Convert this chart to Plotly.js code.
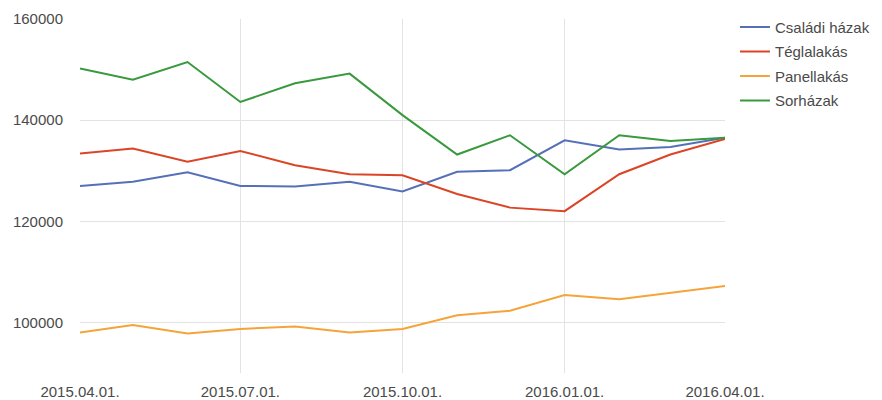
<!DOCTYPE html>
<html>
<head>
<meta charset="utf-8">
<script src="https://cdn.plot.ly/plotly-3.0.1.min.js"></script>
<style>html,body{margin:0;padding:0;background:#fff;}#chart{width:882px;height:400px;}</style>
</head>
<body>
<div id="chart"></div>
<script>
const dates = ["2015-04-01","2015-05-01","2015-06-01","2015-07-01","2015-08-01","2015-09-01","2015-10-01","2015-11-01","2015-12-01","2016-01-01","2016-02-01","2016-03-01","2016-04-01"];
const seriesNames = ["Családi házak","Téglalakás","Panellakás","Sorházak"];
const csaladiHazak = [127000,127800,129700,127000,126900,127800,125900,129800,130100,136000,134200,134700,136500];
const teglalakas   = [133400,134400,131800,133900,131100,129300,129100,125400,122700,122000,129300,133200,136300];
const panellakas   = [98000,99500,97800,98700,99200,98000,98700,101400,102300,105400,104600,105900,107200];
const sorhazak     = [150200,148000,151500,143600,147300,149200,141000,133200,137000,129300,137000,135900,136500];
const xTickVals = ["2015-04-01","2015-07-01","2015-10-01","2016-01-01","2016-04-01"];
const yTickVals = [100000,120000,140000,160000];

const colors = ["#5570b8","#db4526","#f5a43a","#38993d"];
const values = [csaladiHazak, teglalakas, panellakas, sorhazak];

const traces = values.map((v,i)=>({
  x: dates, y: v, type: "scatter", mode: "lines",
  name: seriesNames[i], legendgroup: "g"+i,
  line: {color: colors[i], width: 2}
}));

const layout = {
  width: 882, height: 400,
  margin: {l: 80, r: 157, t: 19, b: 27},
  paper_bgcolor: "#fff", plot_bgcolor: "#fff",
  font: {family: "Liberation Sans, Arial, sans-serif", size: 15, color: "#4a4a4a"},
  showlegend: true,
  legend: {xref: "container", yref: "container", x: 0.8333, xanchor: "left", y: 0.973, yanchor: "top",
           font: {size: 15, color: "#4a4a4a"}, tracegroupgap: 2, bgcolor: "rgba(0,0,0,0)"},
  xaxis: {
    type: "date", range: ["2015-04-01","2016-04-01"],
    tickvals: xTickVals, tickformat: "%Y.%m.%d.",
    showgrid: true, gridcolor: "#e3e3e3", gridwidth: 1,
    zeroline: false, showline: false, ticks: "", ticklabelstandoff: 8,
    tickfont: {size: 15, color: "#4a4a4a"}
  },
  yaxis: {
    range: [90000,160000], tickvals: yTickVals,
    tickformat: "d",
    showgrid: true, gridcolor: "#e3e3e3", gridwidth: 1,
    zeroline: false, showline: false, ticks: "", ticklabelstandoff: 16,
    tickfont: {size: 15, color: "#4a4a4a"}
  }
};

Plotly.newPlot("chart", traces, layout, {displayModeBar: false, staticPlot: true});
</script>
</body>
</html>
